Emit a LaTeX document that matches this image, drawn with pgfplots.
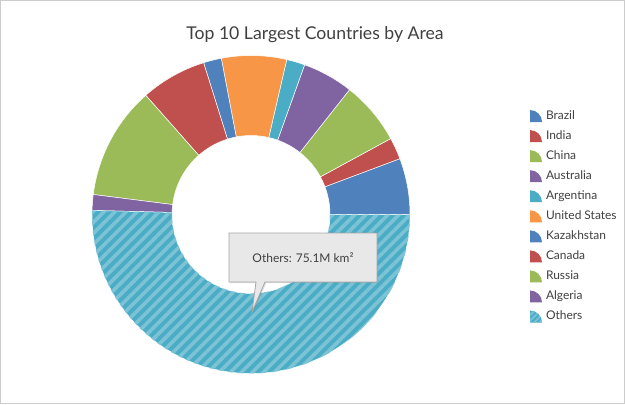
\documentclass[border=0pt]{standalone}
\usepackage{pgfplots}
\pgfplotsset{compat=1.18}
\usepackage{pgfplotstable}
\usepackage{fontspec}
\setmainfont{Lato}
\usetikzlibrary{patterns.meta,shadows}

\definecolor{cblue}{HTML}{4F81BD}
\definecolor{cred}{HTML}{C0504D}
\definecolor{cgreen}{HTML}{9BBB59}
\definecolor{cpurple}{HTML}{8064A2}
\definecolor{cteal}{HTML}{4BACC6}
\definecolor{corange}{HTML}{F79646}
\definecolor{cteallight}{HTML}{7CC3D6}
\definecolor{ctext}{HTML}{404040}
\definecolor{ctip}{HTML}{E8E8E8}
\definecolor{ctipborder}{HTML}{A6A6A6}
\definecolor{cborder}{HTML}{CCCCCC}

\pgfplotstableread{
country value style
Brazil 8.51 sblue
India 3.29 sred
China 9.60 sgreen
Australia 7.69 spurple
Argentina 2.78 steal
UnitedStates 9.83 sorange
Kazakhstan 2.72 sblue
Canada 9.98 sred
Russia 17.10 sgreen
Algeria 2.38 spurple
Others 75.1 sothers
}\areas

\tikzset{
  sblue/.style={fill=cblue},
  sred/.style={fill=cred},
  sgreen/.style={fill=cgreen},
  spurple/.style={fill=cpurple},
  steal/.style={fill=cteal},
  sorange/.style={fill=corange},
  sothers/.style={fill=cteal, postaction={pattern color=cteallight, pattern={Lines[angle=45,distance=7.8bp,line width=3.6bp]}}},
}

\pgfplotsset{
  wedge/.style={legend image code/.code={%
    \fill[#1, draw=none] (0bp,-6bp) -- (12bp,-6bp) arc[start angle=0,end angle=90,radius=12bp] -- cycle;}},
  wedgeothers/.style={legend image code/.code={%
    \path[fill=cteal, draw=none] (0bp,-6bp) -- (12bp,-6bp) arc[start angle=0,end angle=90,radius=12bp] -- cycle;
    \path[draw=none, pattern color=cteallight, pattern={Lines[angle=45,distance=4bp,line width=1.8bp]}] (0bp,-6bp) -- (12bp,-6bp) arc[start angle=0,end angle=90,radius=12bp] -- cycle;}},
}

\begin{document}
\begin{tikzpicture}
\begin{axis}[
  hide axis,
  scale only axis,
  x=1bp, y=1bp,
  xmin=0, xmax=625, ymin=0, ymax=404,
  clip=false,
  legend cell align=left,
  legend style={
    at={(axis cs:530,294)}, anchor=north west,
    draw=none, fill=none, inner sep=0pt, outer sep=0pt,
    row sep=8.05bp,
    font=\fontsize{12}{14}\selectfont, text=ctext,
    nodes={inner sep=0pt, text height=9bp, text depth=3bp},
    /tikz/every odd column/.append style={column sep=4bp},
  },
]
\addlegendimage{wedge=cblue}
\addlegendimage{wedge=cred}
\addlegendimage{wedge=cgreen}
\addlegendimage{wedge=cpurple}
\addlegendimage{wedge=cteal}
\addlegendimage{wedge=corange}
\addlegendimage{wedge=cblue}
\addlegendimage{wedge=cred}
\addlegendimage{wedge=cgreen}
\addlegendimage{wedge=cpurple}
\addlegendimage{wedgeothers}
\legend{Brazil,India,China,Australia,Argentina,United States,Kazakhstan,Canada,Russia,Algeria,Others}

\pgfplotsextra{
  \pgfplotstablegetrowsof{\areas}
  \pgfmathtruncatemacro\N{\pgfplotsretval-1}
  \gdef\tot{0}
  \foreach \i in {0,...,\N}{
    \pgfplotstablegetelem{\i}{value}\of\areas
    \pgfmathparse{\tot+\pgfplotsretval}\xdef\tot{\pgfmathresult}
  }
  \gdef\acc{0}
  \foreach \i in {0,...,\N}{
    \pgfplotstablegetelem{\i}{value}\of\areas \let\v\pgfplotsretval
    \pgfplotstablegetelem{\i}{style}\of\areas \let\col\pgfplotsretval
    \pgfmathsetmacro\a{\acc/\tot*360}
    \pgfmathsetmacro\b{(\acc+\v)/\tot*360}
    \filldraw[\col, draw=white, line width=0.5bp]
      (axis cs:{251+159*cos(\a)},{189.5+159*sin(\a)})
      arc[start angle=\a, end angle=\b, radius=159bp]
      -- (axis cs:{251+79*cos(\b)},{189.5+79*sin(\b)})
      arc[start angle=\b, end angle=\a, radius=79bp] -- cycle;
    \pgfmathparse{\acc+\v}\xdef\acc{\pgfmathresult}
  }
}

\node[font=\fontsize{17.7}{21}\selectfont, text=ctext, anchor=base] at (axis cs:315,365) {Top 10 Largest Countries by Area};

\draw[fill=ctip, draw=ctipborder, line width=0.8bp,
      drop shadow={shadow xshift=1.2bp, shadow yshift=-1.2bp, opacity=0.25}]
  (axis cs:229,171) -- (axis cs:377,171) -- (axis cs:377,122) -- (axis cs:265,122)
  -- (axis cs:252,92) -- (axis cs:256,122) -- (axis cs:229,122) -- cycle;
\node[font=\fontsize{12}{14}\selectfont, text=ctext] at (axis cs:303,146) {Others: 75.1M km²};

\draw[cborder, line width=1bp] (axis cs:0.5,0.5) rectangle (axis cs:624.5,403.5);
\end{axis}
\end{tikzpicture}
\end{document}
